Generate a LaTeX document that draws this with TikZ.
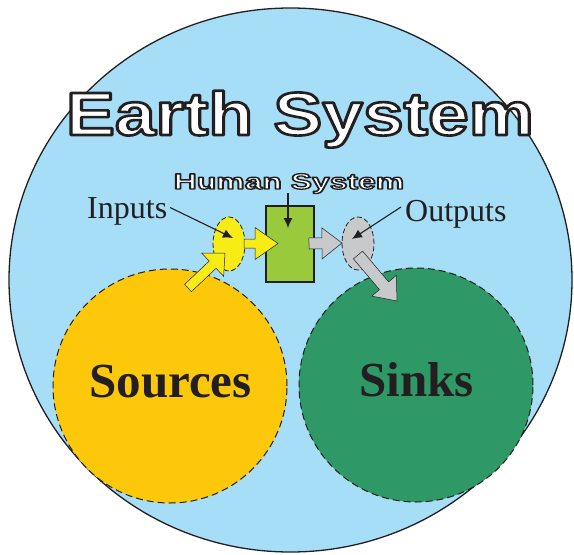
\documentclass[tikz,border=0pt]{standalone}
\usepackage{fontspec}
\setmainfont{Liberation Serif}
\newfontfamily\headfont{Liberation Sans}
\usetikzlibrary{calc,arrows.meta,shapes.geometric}
\definecolor{skyblue}{HTML}{A6DEF7}
\definecolor{srcyellow}{HTML}{FDC80A}
\definecolor{sinkgreen}{HTML}{2E9966}
\definecolor{boxgreen}{HTML}{99CA3C}
\definecolor{lemon}{HTML}{F7EC15}
\definecolor{ashgray}{HTML}{C8C9CB}
\definecolor{ink}{HTML}{231F20}
\newcommand\outlinetext[2]{\special{pdf:literal direct 0.137 0.122 0.125 RG #1 w 1 j 2 Tr}#2\special{pdf:literal direct 0 Tr}}
\newcommand\blockarrow[6]{%
  \coordinate (bah) at ($(#3)!#6!(#2)$);
  \filldraw[#1] ($(#2)!#4!90:(#3)$) -- ($(bah)!#4!-90:(#2)$) -- ($(bah)!#5!-90:(#2)$) -- (#3)
    -- ($(bah)!#5!90:(#2)$) -- ($(bah)!#4!90:(#2)$) -- ($(#2)!#4!-90:(#3)$) -- cycle;}
\begin{document}
\begin{tikzpicture}[x=1pt,y=-1pt,
  bigcirc/.style={circle,draw=ink,line width=1pt,dash pattern=on 7pt off 4pt,inner sep=0pt,minimum size=234pt},
  smallell/.style={ellipse,draw=ink,line width=0.8pt,dash pattern=on 5pt off 2.5pt,inner sep=0pt,minimum width=32pt,minimum height=54pt},
  blockstyle/.style={draw=ink,line width=0.5pt,line join=miter},
  leader/.style={draw=ink,line width=1.1pt,-{Latex[length=10pt,width=9pt]}},
  label/.style={inner sep=0pt,text=ink,font=\fontsize{32}{36}\selectfont},
  bigword/.style={inner sep=0pt,text=ink,font=\fontsize{49}{54}\selectfont\bfseries},
  headtext/.style={inner sep=0pt,text=white}]
\useasboundingbox (0,0) rectangle (574,555);
% Earth
\node[ellipse,draw=ink,line width=1.3pt,fill=skyblue,inner sep=0pt,minimum width=563pt,minimum height=544pt] (earth) at (290.5,280) {};
% Sources and sinks
\node[bigcirc,fill=srcyellow] (sources) at (170,386) {};
\node[bigcirc,fill=sinkgreen] (sinks) at (416,385) {};
\node[bigword,anchor=base] (srctext) at (170.5,397) {Sources};
\node[bigword,anchor=base] (sinktext) at (416.5,396) {Sinks};
% Human system box
\node[rectangle,draw=ink,line width=1.1pt,fill=boxgreen,inner sep=0pt,minimum width=48pt,minimum height=76pt] (box) at (290,244) {};
% Inputs / outputs ellipses
\node[smallell,fill=lemon] (inell) at (229,244) {};
\node[smallell,fill=ashgray,minimum height=53pt] (outell) at (358,243.5) {};
% block arrows
\coordinate (a1tail) at (188,288);
\coordinate (a1tip) at (225,253);
\blockarrow{blockstyle,fill=lemon}{a1tail}{a1tip}{5pt}{16pt}{17pt}
\coordinate (a2tail) at (244,243.5);
\coordinate (a2tip) at (278,243.5);
\blockarrow{blockstyle,fill=lemon}{a2tail}{a2tip}{4.5pt}{16pt}{23pt}
\coordinate (a3tail) at (309,243.5);
\coordinate (a3tip) at (342,243);
\blockarrow{blockstyle,fill=ashgray}{a3tail}{a3tip}{5.5pt}{15.5pt}{20pt}
\coordinate (a4tail) at (358,255);
\coordinate (a4tip) at (397,301);
\blockarrow{blockstyle,fill=ashgray}{a4tail}{a4tip}{6pt}{16pt}{20pt}
% labels
\node[label,anchor=base west] (inlbl) at (87,218) {Inputs};
\node[label,anchor=base west] (outlbl) at (405,221) {Outputs};
\coordinate (inl) at (170,207.5);
\coordinate (intip) at (233,238);
\coordinate (outl) at (401,207);
\coordinate (outtip) at (352,239);
\draw[leader] (inl) -- (intip);
\draw[leader] (outl) -- (outtip);
% titles
\node[headtext,anchor=base,xscale=1.2,font=\headfont\bfseries\fontsize{61}{64}\selectfont] (earthtitle) at (300,135) {\outlinetext{2.6}{Earth System}};
\node[headtext,anchor=base,xscale=1.45,font=\headfont\bfseries\fontsize{22}{24}\selectfont] (humantitle) at (289,189) {\outlinetext{1.3}{Human System}};
\coordinate (hstail) at (288,193);
\coordinate (hstip) at (288,228);
\draw[leader] (hstail) -- (hstip);
\end{tikzpicture}
\end{document}
